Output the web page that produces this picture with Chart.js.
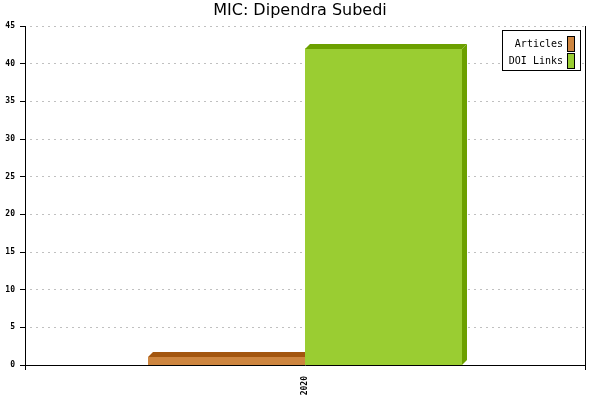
<!DOCTYPE html>
<html>
<head>
<meta charset="utf-8">
<script src="https://cdn.jsdelivr.net/npm/chart.js@4/dist/chart.umd.min.js"></script>
<style>
  html, body { margin: 0; padding: 0; background: #fff; }
  #grafico { display: block; }
</style>
</head>
<body>
<canvas id="grafico" width="600" height="400"></canvas>
<script>
// ==========================================
// DATOS
// ==========================================
var titulo = "MIC: Dipendra Subedi";
var anios = ["2020"];
var articulos = [1];
var enlacesDoi = [42];
var series = ["Articles", "DOI Links"];

var coloresFrente = ["#cd853f", "#9acd32"];
var coloresSombra = ["#a3560f", "#6ca000"];
var profundidad = 5;

// ==========================================
// PLUGIN: barras 3D, título y leyenda
// ==========================================
var pluginDibujo = {
  id: "dibujo3d",
  afterDatasetsDraw: function (chart) {
    var ctx = chart.ctx;
    ctx.save();
    chart.data.datasets.forEach(function (ds, i) {
      var meta = chart.getDatasetMeta(i);
      meta.data.forEach(function (bar) {
        var x0 = Math.round(bar.x - bar.width / 2);
        var x1 = Math.round(bar.x + bar.width / 2);
        var y = Math.round(bar.y);
        var base = Math.round(bar.base);
        var d = profundidad;
        ctx.fillStyle = coloresSombra[i];
        // cara superior
        ctx.beginPath();
        ctx.moveTo(x0, y);
        ctx.lineTo(x0 + d, y - d);
        ctx.lineTo(x1 + d, y - d);
        ctx.lineTo(x1, y);
        ctx.closePath();
        ctx.fill();
        // cara lateral
        ctx.beginPath();
        ctx.moveTo(x1, y);
        ctx.lineTo(x1 + d, y - d);
        ctx.lineTo(x1 + d, base - d);
        ctx.lineTo(x1, base);
        ctx.closePath();
        ctx.fill();
        // frente
        ctx.fillStyle = coloresFrente[i];
        ctx.fillRect(x0, y, x1 - x0, base - y);
      });
    });
    ctx.restore();
  },
  afterDraw: function (chart) {
    var ctx = chart.ctx;
    ctx.save();
    // título
    ctx.fillStyle = "#000";
    ctx.font = '16px "DejaVu Sans"';
    ctx.textAlign = "center";
    ctx.textBaseline = "middle";
    ctx.fillText(titulo, 300, 11);

    // leyenda
    ctx.fillStyle = "#fff";
    ctx.fillRect(502, 30, 78, 40);
    ctx.strokeStyle = "#000";
    ctx.lineWidth = 1;
    ctx.strokeRect(502.5, 30.5, 78, 40);
    ctx.font = '10px "DejaVu Sans Mono"';
    ctx.textAlign = "right";
    chart.data.datasets.forEach(function (ds, i) {
      var yc = 44 + i * 17;
      ctx.fillStyle = "#000";
      ctx.fillText(ds.label, 563, yc);
      ctx.fillStyle = coloresFrente[i];
      ctx.fillRect(568, yc - 7, 6, 14);
      ctx.strokeRect(567.5, yc - 7.5, 7, 15);
    });
    ctx.restore();
  }
};

// ==========================================
// GRÁFICO
// ==========================================
var ctxGrafico = document.getElementById("grafico");
new Chart(ctxGrafico, {
  type: "bar",
  data: {
    labels: anios,
    datasets: [{
      label: series[0],
      data: articulos,
      backgroundColor: coloresFrente[0]
    }, {
      label: series[1],
      data: enlacesDoi,
      backgroundColor: coloresFrente[1]
    }]
  },
  options: {
    responsive: false,
    animation: false,
    devicePixelRatio: 1,
    layout: {
      padding: { top: 26, right: 15, left: 0, bottom: 0 }
    },
    datasets: {
      bar: { categoryPercentage: 0.559, barPercentage: 1 }
    },
    plugins: {
      legend: { display: false },
      title: { display: false },
      tooltip: { enabled: false }
    },
    scales: {
      x: {
        offset: true,
        grid: {
          color: "#000",
          offset: true,
          tickLength: 5,
          tickColor: "#000"
        },
        border: { color: "#000", width: 1 },
        ticks: {
          minRotation: 90,
          maxRotation: 90,
          padding: 6,
          color: "#000",
          font: { family: "DejaVu Sans Mono", size: 8, weight: "bold" }
        },
        afterFit: function (scale) { scale.height = 35; }
      },
      y: {
        min: 0,
        max: 45,
        grid: {
          color: "#c0c0c0",
          tickColor: "#000",
          tickLength: 5,
          tickBorderDash: []
        },
        border: { color: "#000", width: 1, dash: [2, 4], dashOffset: -4 },
        ticks: {
          stepSize: 5,
          padding: 5,
          color: "#000",
          font: { family: "DejaVu Sans Mono", size: 8, weight: "bold" }
        },
        afterFit: function (scale) { scale.width = 25; }
      }
    }
  },
  plugins: [pluginDibujo]
});
</script>
</body>
</html>
